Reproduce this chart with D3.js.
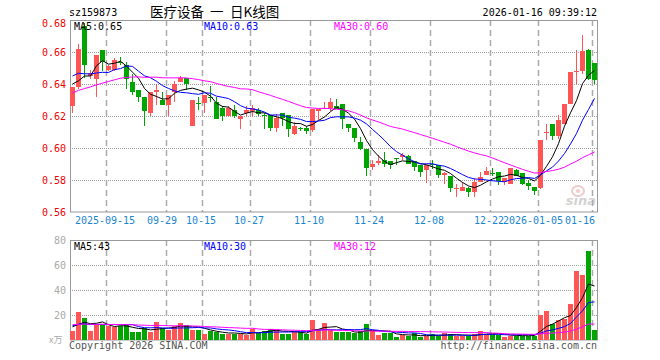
<!DOCTYPE html>
<html>
<head>
<meta charset="utf-8">
<script src="https://cdn.jsdelivr.net/npm/d3@7/dist/d3.min.js"></script>
<style>
  body { margin: 0; background: #fff; }
  svg { display: block; }
  text { font-family: "DejaVu Sans Mono", "Liberation Mono", monospace; font-size: 10px; }
</style>
</head>
<body>
<svg id="chart"></svg>
<script>
// trading days shown on the chart
const dates = [
  "2025-09-05", "2025-09-08", "2025-09-09", "2025-09-10", "2025-09-11", "2025-09-12", "2025-09-15", "2025-09-16", "2025-09-17", "2025-09-18",
  "2025-09-19", "2025-09-22", "2025-09-23", "2025-09-24", "2025-09-25", "2025-09-26", "2025-09-29", "2025-09-30", "2025-10-09", "2025-10-10",
  "2025-10-13", "2025-10-14", "2025-10-15", "2025-10-16", "2025-10-17", "2025-10-20", "2025-10-21", "2025-10-22", "2025-10-23", "2025-10-24",
  "2025-10-27", "2025-10-28", "2025-10-29", "2025-10-30", "2025-10-31", "2025-11-03", "2025-11-04", "2025-11-05", "2025-11-06", "2025-11-07",
  "2025-11-10", "2025-11-11", "2025-11-12", "2025-11-13", "2025-11-14", "2025-11-17", "2025-11-18", "2025-11-19", "2025-11-20", "2025-11-21",
  "2025-11-24", "2025-11-25", "2025-11-26", "2025-11-27", "2025-11-28", "2025-12-01", "2025-12-02", "2025-12-03", "2025-12-04", "2025-12-05",
  "2025-12-08", "2025-12-09", "2025-12-10", "2025-12-11", "2025-12-12", "2025-12-15", "2025-12-16", "2025-12-17", "2025-12-18", "2025-12-19",
  "2025-12-22", "2025-12-23", "2025-12-24", "2025-12-25", "2025-12-26", "2025-12-29", "2025-12-30", "2025-12-31", "2026-01-05", "2026-01-06",
  "2026-01-07", "2026-01-08", "2026-01-09", "2026-01-12", "2026-01-13", "2026-01-14", "2026-01-15", "2026-01-16"
];

const opens = [
  .626, .638, .676, .645, .643, .661, .649, .649, .654, .652,
  .641, .636, .632, .622, .635, .630, .627, .635, .641, .644,
  .614, .628, .628, .632, .629, .625, .620, .624, .618, .622,
  .623, .624, .6205, .6205, .6126, .622, .6205, .609, .6128, .6122,
  .611, .623, .6245, .6247, .626, .6272, .6151, .6122, .6039, .5992,
  .5882, .5908, .5924, .592, .5935, .5941, .5949, .592, .5893, .5861,
  .5898, .5893, .583, .5826, .5746, .573, .5747, .5726, .5789, .583,
  .5846, .5847, .579, .5778, .5861, .5841, .5782, .5757, .5747, .6091,
  .6153, .6076, .6153, .6278, .6477, .648, .661, .653
];
const closes = [
  .638, .662, .652, .647, .658, .654, .651, .655, .653, .643,
  .635, .632, .623, .635, .636, .627, .633, .640, .644, .640,
  .630, .6275, .633, .6315, .618, .620, .625, .620, .620, .624,
  .625, .621, .620, .6126, .619, .619, .612, .614, .6124, .6105,
  .6245, .6245, .625, .629, .6243, .6184, .6122, .6064, .5992, .5872,
  .5899, .5918, .5899, .5893, .5933, .5955, .5899, .5882, .5847, .5893,
  .5892, .583, .5841, .5747, .5748, .5757, .5722, .5789, .582, .5855,
  .5844, .5795, .581, .5872, .5826, .5778, .5764, .573, .6053, .6101,
  .6076, .6174, .6278, .6472, .648, .6608, .6434, .6424
];
const highs = [
  .638, .665, .678, .649, .658, .661, .652, .656, .657, .654,
  .646, .636, .632, .635, .640, .635, .633, .642, .645, .644,
  .630, .632, .633, .639, .632, .626, .626, .627, .620, .626,
  .627, .625, .622, .6205, .621, .622, .6205, .616, .613, .614,
  .6245, .6245, .629, .631, .6307, .6275, .6151, .6122, .607, .5992,
  .5924, .5955, .5976, .592, .5939, .597, .5955, .592, .5893, .5893,
  .5924, .5893, .585, .5826, .5774, .5788, .5755, .5814, .5847, .5882,
  .5872, .5847, .5815, .5875, .5868, .5841, .5799, .5757, .6053, .6153,
  .6153, .6205, .6278, .6472, .6611, .6705, .662, .653
];
const lows = [
  .622, .637, .644, .643, .632, .648, .648, .648, .652, .637,
  .633, .629, .614, .620, .627, .627, .620, .629, .641, .636,
  .6135, .624, .622, .629, .618, .617, .620, .619, .612, .620,
  .620, .620, .612, .6105, .6097, .614, .607, .608, .6105, .6086,
  .610, .6174, .6245, .623, .6243, .612, .6097, .6039, .5989, .5826,
  .5861, .5893, .5882, .5868, .5893, .5924, .5899, .5855, .582, .5784,
  .5868, .5814, .5774, .5726, .5695, .573, .5695, .5695, .5789, .583,
  .5826, .5768, .577, .5778, .5826, .5768, .5736, .5705, .5745, .6049,
  .6049, .6055, .6148, .6278, .6403, .646, .6422, .6403
];
// volume, in 万
const volumes = [
  6.9, 22.4, 17.9, 7.5, 12.3, 12.3, 10.9, 10.7, 10.9, 11.7,
  6.7, 6.1, 9.3, 6.7, 14.1, 9.6, 8.3, 10.9, 13.3, 11.7,
  8.3, 8.3, 5.1, 6.9, 6.4, 4.5, 5.1, 5.1, 5.1, 4.3,
  9.1, 5.6, 7.5, 9.1, 8.0, 5.1, 5.1, 6.4, 6.4, 4.5,
  16.3, 9.1, 13.9, 8.0, 6.1, 6.7, 6.1, 5.3, 6.9, 13.1,
  6.9, 4.3, 5.3, 5.3, 2.7, 4.0, 2.9, 5.3, 2.4, 2.9,
  4.6, 3.6, 5.7, 4.6, 3.0, 3.0, 3.0, 4.9, 7.6, 4.9,
  4.6, 4.1, 2.6, 3.6, 3.6, 3.6, 3.6, 3.6, 20.3, 23.0,
  12.8, 16.3, 16.8, 29.1, 55.0, 52.3, 70.9, 8.3
];

// sessions before 09-05 (off chart), estimated from where the MA lines start
const priorCloses = [
  0.612, 0.618, 0.616, 0.620, 0.622, 0.619, 0.625, 0.623, 0.628, 0.626,
  0.630, 0.633, 0.631, 0.636, 0.638, 0.635, 0.640, 0.642, 0.644, 0.643,
  0.645, 0.655, 0.648, 0.652, 0.650, 0.652, 0.637, 0.647, 0.626
];
const priorVolumes = [
  14, 11, 13, 15, 10, 12, 16, 11, 13, 12,
  10, 14, 12, 13, 11, 15, 12, 11, 13, 14,
  13, 12, 14, 11, 12.5, 12, 10, 13, 10.6
];

const priceTicks = [0.56, 0.58, 0.60, 0.62, 0.64, 0.66, 0.68];
const volumeTicks = [0, 20, 40, 60, 80];
const tickDates = ["2025-09-15", "2025-09-29", "2025-10-15", "2025-10-27", "2025-11-10", "2025-11-24", "2025-12-08", "2025-12-22", "2026-01-05", "2026-01-16"];
const tickLabels = ["2025-09-15", "09-29", "10-15", "10-27", "11-10", "11-24", "12-08", "12-22", "2026-01-05", "01-16"];
const titleParts = ["医疗设备", "一", "日K线图"];

const maPeriods = [5, 10, 30];
const maColors = ["#000000", "#0000ff", "#ff00ff"];
const red = "#ff5555";
const green = "#00a600";

function movingAverage(prior, values, n) {
  const all = prior.concat(values);
  return values.map((v, i) => d3.mean(all.slice(prior.length + i - n + 1, prior.length + i + 1)));
}

function renderChart() {
  const width = 660, height = 360;
  const left = 70, right = 597;
  const svg = d3.select("#chart").attr("width", width).attr("height", height);

  const x = d3.scalePoint().domain(dates).range([72.5, 594.5]);
  const y = d3.scaleLinear().domain([0.56, 0.68]).range([212, 20]);
  const yv = d3.scaleLinear().domain([0, 80]).range([340, 240]);
  const bodyW = 5;

  // header
  svg.append("text").attr("x", 69).attr("y", 16).attr("fill", "#000").text("sz159873");
  const titleX = [150, 210, 230];
  svg.append("g").selectAll("text")
    .data(titleParts).join("text")
    .attr("x", (d, i) => titleX[i]).attr("y", 16.5)
    .style("font-family", "'Noto Sans CJK SC', sans-serif").style("font-size", "13.5px")
    .attr("fill", "#000").text(d => d);
  svg.append("text").attr("x", 597).attr("y", 16).attr("text-anchor", "end").attr("fill", "#000").text("2026-01-16 09:39:12");

  // horizontal dotted grid
  svg.append("g").selectAll("line")
    .data(priceTicks.slice(1, -1).map(y).concat(volumeTicks.slice(1, -1).map(yv)))
    .join("line")
    .attr("x1", left).attr("x2", right)
    .attr("y1", d => Math.round(d) + 0.5).attr("y2", d => Math.round(d) + 0.5)
    .attr("stroke", "#a0a0a0").attr("stroke-dasharray", "1,1");

  // vertical dashed grid
  const gridX = tickDates.map(d => x(d) - 2);
  [[20, 212], [240, 340]].forEach(([y0, y1]) => {
    svg.append("g").selectAll("line")
      .data(gridX).join("line")
      .attr("x1", d => d).attr("x2", d => d)
      .attr("y1", y0).attr("y2", y1)
      .attr("stroke", "#aaaaaa").attr("stroke-width", 1.5)
      .attr("stroke-dasharray", "6,4");
  });

  // sina watermark
  const wm = svg.append("g").attr("opacity", 0.55);
  wm.append("ellipse").attr("cx", 578).attr("cy", 191).attr("rx", 6).attr("ry", 5)
    .attr("fill", "none").attr("stroke", "#e6a0a0").attr("stroke-width", 2);
  wm.append("circle").attr("cx", 578).attr("cy", 191).attr("r", 2).attr("fill", "#e6a0a0");
  wm.append("text").attr("x", 596).attr("y", 205).attr("text-anchor", "end")
    .style("font-family", "'DejaVu Sans', sans-serif").style("font-size", "13px")
    .style("font-style", "italic").style("font-weight", "bold")
    .attr("fill", "#b0b0b0").text("sina");

  // frames
  svg.append("rect").attr("x", left + 0.5).attr("y", 20.5).attr("width", right - left).attr("height", 191.5)
    .attr("fill", "none").attr("stroke", "#999");
  svg.append("rect").attr("x", left + 0.5).attr("y", 240.5).attr("width", right - left).attr("height", 99.5)
    .attr("fill", "none").attr("stroke", "#999");

  // axis labels
  svg.append("g").selectAll("text")
    .data(priceTicks).join("text")
    .attr("x", 66).attr("y", d => Math.max(y(d), 23) + 3.5)
    .attr("text-anchor", "end").attr("fill", "#ee0000")
    .text(d => d3.format(".2f")(d));
  svg.append("g").selectAll("text")
    .data(volumeTicks.slice(1)).join("text")
    .attr("x", 66).attr("y", d => yv(d) + 3.5)
    .attr("text-anchor", "end").attr("fill", "#aaaaaa")
    .text(d => d);
  svg.append("text").attr("x", 49).attr("y", 343)
    .style("font-family", "'Noto Sans CJK SC', sans-serif").style("font-size", "9px")
    .attr("fill", "#aaaaaa").text("x万");

  // small nudges so neighbouring date labels do not collide
  const labelNudge = { "09-29": -3, "2026-01-05": -4 };
  const last = tickDates.length - 1;
  svg.append("g").selectAll("text")
    .data(tickDates).join("text")
    .attr("x", (d, i) => i === last ? 595 : x(d) - 3.5 + (labelNudge[tickLabels[i]] || 0))
    .attr("y", 224)
    .attr("text-anchor", (d, i) => i === last ? "end" : "middle")
    .attr("fill", "#1a86d0")
    .text((d, i) => tickLabels[i]);

  // candles
  const candles = d3.range(dates.length).map(i => ({
    date: dates[i], o: opens[i], h: highs[i], l: lows[i], c: closes[i], v: volumes[i]
  }));
  const col = d => d.c >= d.o ? red : green;

  const cg = svg.append("g").attr("shape-rendering", "crispEdges");
  cg.selectAll("line")
    .data(candles).join("line")
    .attr("x1", d => x(d.date)).attr("x2", d => x(d.date))
    .attr("y1", d => y(d.h)).attr("y2", d => y(d.l))
    .attr("stroke", col);
  cg.selectAll("rect")
    .data(candles).join("rect")
    .attr("x", d => x(d.date) - bodyW / 2)
    .attr("y", d => y(Math.max(d.o, d.c)))
    .attr("width", bodyW)
    .attr("height", d => Math.max(1, Math.abs(y(d.o) - y(d.c))))
    .attr("fill", col);

  // volume bars
  svg.append("g").attr("shape-rendering", "crispEdges")
    .selectAll("rect")
    .data(candles).join("rect")
    .attr("x", d => x(d.date) - bodyW / 2)
    .attr("y", d => yv(d.v))
    .attr("width", bodyW)
    .attr("height", d => yv(0) - yv(d.v))
    .attr("fill", col);

  // moving averages
  const priceMA = maPeriods.map(n => movingAverage(priorCloses, closes, n));
  const volMA = maPeriods.map(n => movingAverage(priorVolumes, volumes, n));

  const priceLine = d3.line().x((d, i) => x(dates[i])).y(d => y(d));
  const volLine = d3.line().x((d, i) => x(dates[i])).y(d => yv(d));

  priceMA.forEach((ma, k) => {
    svg.append("path").datum(ma).attr("d", priceLine)
      .attr("fill", "none").attr("stroke", maColors[k]).attr("stroke-width", 1);
  });
  volMA.forEach((ma, k) => {
    svg.append("path").datum(ma).attr("d", volLine)
      .attr("fill", "none").attr("stroke", maColors[k]).attr("stroke-width", 1);
  });

  // legends
  const legendX = [74, 204, 334];
  maPeriods.forEach((n, k) => {
    const lastP = priceMA[k][priceMA[k].length - 1];
    svg.append("text").attr("x", legendX[k]).attr("y", 29.5).attr("fill", maColors[k])
      .text(`MA${n}:${d3.format(".2f")(lastP)}`);
    const lastV = volMA[k][volMA[k].length - 1];
    svg.append("text").attr("x", legendX[k]).attr("y", 250).attr("fill", maColors[k])
      .text(`MA${n}:${Math.floor(lastV)}`);
  });

  // footer
  svg.append("text").attr("x", 69).attr("y", 349).attr("fill", "#555").text("Copyright 2026 SINA.COM");
  svg.append("text").attr("x", 597).attr("y", 349).attr("text-anchor", "end").attr("fill", "#555").text("http://finance.sina.com.cn");
}

renderChart();
</script>
</body>
</html>
